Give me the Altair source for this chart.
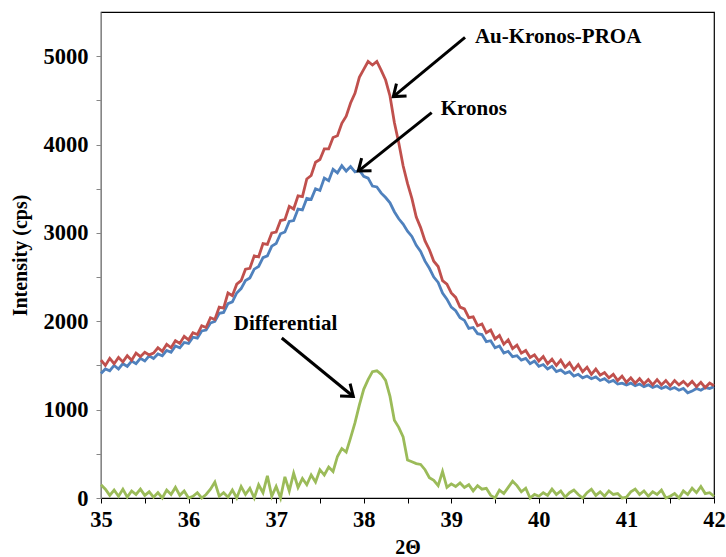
import altair as alt
import pandas as pd

# 2-theta sample positions (0.05 step from 35 to 42)
two_theta = [round(35 + 0.05 * i, 2) for i in range(141)]

au_kronos_proa = [
    1560, 1500, 1580, 1520, 1590, 1540, 1610, 1560, 1640, 1600,
    1650, 1620, 1640, 1700, 1660, 1740, 1700, 1780, 1750, 1830,
    1790, 1870, 1850, 1950, 1930, 2040, 2020, 2160, 2150, 2320,
    2290, 2420, 2460, 2590, 2600, 2740, 2730, 2880, 2870, 3000,
    3010, 3140, 3150, 3300, 3270, 3420, 3410, 3610, 3650, 3800,
    3830, 3950, 3950, 4080, 4100, 4240, 4320, 4470, 4580, 4760,
    4850, 4940, 4900, 4940, 4840, 4730, 4550, 4250, 4020, 3760,
    3560, 3390, 3180, 3060, 2910, 2810, 2680, 2620, 2460, 2420,
    2320, 2270, 2160, 2140, 2040, 2050, 1950, 1970, 1870, 1900,
    1800, 1840, 1740, 1790, 1690, 1730, 1640, 1670, 1590, 1620,
    1550, 1600, 1520, 1570, 1500, 1560, 1480, 1530, 1450, 1510,
    1430, 1480, 1400, 1460, 1390, 1420, 1360, 1400, 1330, 1380,
    1310, 1360, 1300, 1350, 1290, 1340, 1280, 1340, 1280, 1330,
    1270, 1330, 1280, 1320, 1270, 1320, 1260, 1310, 1250, 1300,
    1270,
]

kronos = [
    1410, 1460, 1440, 1500, 1460, 1520, 1490, 1550, 1520, 1580,
    1550, 1610, 1580, 1630, 1610, 1670, 1650, 1720, 1700, 1760,
    1750, 1820, 1810, 1890, 1900, 1980, 2000, 2090, 2100, 2200,
    2220, 2320, 2370, 2460, 2490, 2590, 2620, 2720, 2740, 2850,
    2880, 2990, 3010, 3130, 3140, 3270, 3260, 3390, 3380, 3500,
    3480, 3620, 3590, 3720, 3680, 3760, 3700, 3750, 3690, 3710,
    3640, 3620, 3530, 3520, 3450, 3400, 3340, 3240, 3160, 3100,
    3020, 2960, 2860, 2790, 2680, 2600, 2500, 2440, 2320, 2250,
    2160, 2120, 2040, 2010, 1920, 1930, 1860, 1850, 1770, 1780,
    1700, 1720, 1640, 1660, 1600, 1610, 1560, 1580, 1520, 1550,
    1490, 1510, 1460, 1490, 1430, 1450, 1410, 1430, 1380, 1400,
    1360, 1380, 1350, 1370, 1330, 1350, 1310, 1330, 1290, 1300,
    1280, 1300, 1270, 1290, 1260, 1280, 1250, 1270, 1240, 1260,
    1230, 1250, 1220, 1240, 1190, 1210, 1240, 1220, 1250, 1240,
    1260,
]

differential = [
    150, 100, 30, 90, 20, 100, 10, 80, 40, 100,
    30, 70, 10, 60, 0, 90, 40, 120, 30, 80,
    0, 20, 60, 0, 40, 100, 180, 20, 60, 10,
    90, 0, 130, 40, 110, 0, 150, 60, 250, 20,
    130, 0, 240, 80, 280, 120, 220, 150, 260, 180,
    320, 260, 350, 300, 470, 560, 520, 680, 850, 1050,
    1230, 1340, 1430, 1440, 1400, 1330, 1150, 880, 800, 690,
    430, 410, 390, 380, 320, 230, 200, 140, 300, 120,
    160, 130, 170, 120, 150, 80, 140, 100, 110, 30,
    0, 90, 50, 120, 190, 140, 70, 110, 0, 40,
    20, 60, 30, 100, 40, 80, 10, 60, 90, 40,
    0, 60, 100, 30, 70, 20, 80, 40, 50, 0,
    10, 70, 100, 40, 80, 20, 70, 40, 90, 0,
    20, 50, 0, 80, 40, 110, 60, 130, 50, 60,
    20,
]

series_names = ["Kronos", "Au-Kronos-PROA", "Differential"]
series_colors = ["#4F81BD", "#C0504D", "#9BBB59"]

# Annotations (data coordinates)
label_text = ["Au-Kronos-PROA", "Kronos", "Differential"]
label_x = [40.22, 39.257, 37.107]
label_y = [5215, 4399, 1973]

arrow_x = [39.157, 38.776, 37.064]
arrow_y = [5212, 4362, 1811]
arrow_x2 = [38.338, 37.938, 37.881]
arrow_y2 = [4543, 3700, 1149]
arrow_angle = [230.6, 231.5, 129.2]

x_ticks = [35 + 0.5 * i for i in range(15)]
y_ticks = [500 * i for i in range(11)]

df = pd.DataFrame({
    "two_theta": two_theta * 3,
    "intensity": kronos + au_kronos_proa + differential,
    "series": ["Kronos"] * 141 + ["Au-Kronos-PROA"] * 141 + ["Differential"] * 141,
})
labels_df = pd.DataFrame({"text": label_text, "x": label_x, "y": label_y})
arrows_df = pd.DataFrame({"x": arrow_x, "y": arrow_y, "x2": arrow_x2,
                          "y2": arrow_y2, "angle": arrow_angle})

FONT = "Liberation Serif"
x_scale = alt.Scale(domain=[35, 42], nice=False, zero=False)
y_scale = alt.Scale(domain=[0, 5500], nice=False)

x_axis = alt.Axis(
    title="2Θ", values=x_ticks,
    labelExpr="datum.value % 1 == 0 ? format(datum.value, 'd') : ''",
    labelFlush=False, labelOverlap=False, grid=False,
    tickSize=5, tickColor="black", domainColor="black",
    labelPadding=5, titlePadding=7,
)
y_axis = alt.Axis(
    title="Intensity (cps)", values=y_ticks,
    labelExpr="datum.value % 1000 == 0 ? format(datum.value, 'd') : ''",
    labelOverlap=False, grid=False,
    tickSize=5, tickColor="#868686", domainColor="#868686",
    labelPadding=8, titlePadding=13,
)

lines = alt.Chart(df).mark_line(strokeWidth=2.8).encode(
    x=alt.X("two_theta:Q", scale=x_scale, axis=x_axis),
    y=alt.Y("intensity:Q", scale=y_scale, axis=y_axis),
    color=alt.Color("series:N", scale=alt.Scale(domain=series_names, range=series_colors), legend=None),
)

shafts = alt.Chart(arrows_df).mark_rule(color="black", strokeWidth=3).encode(
    x=alt.X("x:Q", scale=x_scale), y=alt.Y("y:Q", scale=y_scale),
    x2="x2:Q", y2="y2:Q",
)

heads = alt.Chart(arrows_df).mark_point(
    shape="M -0.75 1 L 0 0 L 0.75 1", filled=False, color="black",
    strokeWidth=3, size=450, opacity=1,
).encode(
    x=alt.X("x2:Q", scale=x_scale), y=alt.Y("y2:Q", scale=y_scale),
    angle=alt.Angle("angle:Q", scale=None),
)

texts = alt.Chart(labels_df).mark_text(
    font=FONT, fontSize=21, fontWeight="bold", color="black",
    align="center", baseline="middle",
).encode(
    x=alt.X("x:Q", scale=x_scale), y=alt.Y("y:Q", scale=y_scale), text="text:N",
)

chart = alt.layer(lines, shafts, heads, texts).properties(
    width=613, height=486,
    padding={"left": 101, "top": 12, "right": 12, "bottom": 59},
    autosize=alt.AutoSizeParams(type="none"),
).configure_view(
    stroke="black", strokeWidth=1.2,
).configure_axis(
    labelFont=FONT, labelFontSize=22.5, labelFontWeight="bold", labelColor="black",
    titleFont=FONT, titleFontSize=20, titleFontWeight="bold", titleColor="black",
)

chart.save("out.html", embed_options={"renderer": "svg", "actions": False})
